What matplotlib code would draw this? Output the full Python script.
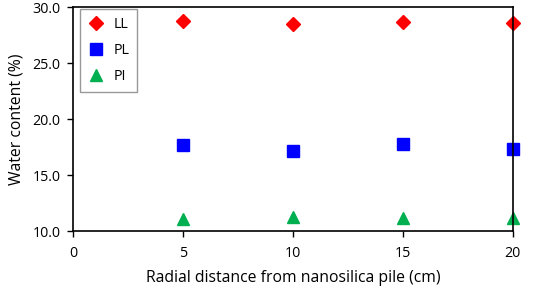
import matplotlib
matplotlib.use("Agg")
import matplotlib.pyplot as plt

distance = [5, 10, 15, 20]
ll = [28.75, 28.5, 28.7, 28.6]
pl = [17.7, 17.15, 17.75, 17.3]
pi = [11.05, 11.25, 11.2, 11.2]

plt.rcParams['font.family'] = ['Open Sans', 'DejaVu Sans']

fig = plt.figure(figsize=(5.33, 2.86), dpi=100)
ax = fig.add_axes([0.137, 0.192, 0.825, 0.783])

ax.plot(distance, ll, linestyle='none', marker='D', color='#ff0000', markersize=7, label='LL', clip_on=False)
ax.plot(distance, pl, linestyle='none', marker='s', color='#0000ff', markersize=8, label='PL', clip_on=False)
ax.plot(distance, pi, linestyle='none', marker='^', color='#00b050', markersize=9, label='PI', clip_on=False)

ax.set_xlim(0, 20)
ax.set_ylim(10, 30)
ax.set_xticks([0, 5, 10, 15, 20])
ax.set_yticks([10, 15, 20, 25, 30])
ax.set_yticklabels([f"{v:.1f}" for v in [10, 15, 20, 25, 30]])
ax.tick_params(direction='out', length=4, width=1, labelsize=10.3, colors='black')
ax.tick_params(axis='x', pad=7)
ax.tick_params(axis='y', pad=5)

for s in ax.spines.values():
    s.set_linewidth(1.2)
    s.set_color('black')

ax.set_xlabel("Radial distance from nanosilica pile (cm)", fontsize=11.3, labelpad=6)
ax.set_ylabel("Water content (%)", fontsize=11.3, labelpad=6)

leg = ax.legend(loc='upper left', bbox_to_anchor=(0.015, 0.99), frameon=True, fancybox=False,
                edgecolor='#808080', fontsize=10.3, labelspacing=0.75, handletextpad=0.6,
                borderpad=0.55, handlelength=1.2, borderaxespad=0.0)
leg.get_frame().set_linewidth(1.0)

fig.savefig("out.png", dpi=100)
